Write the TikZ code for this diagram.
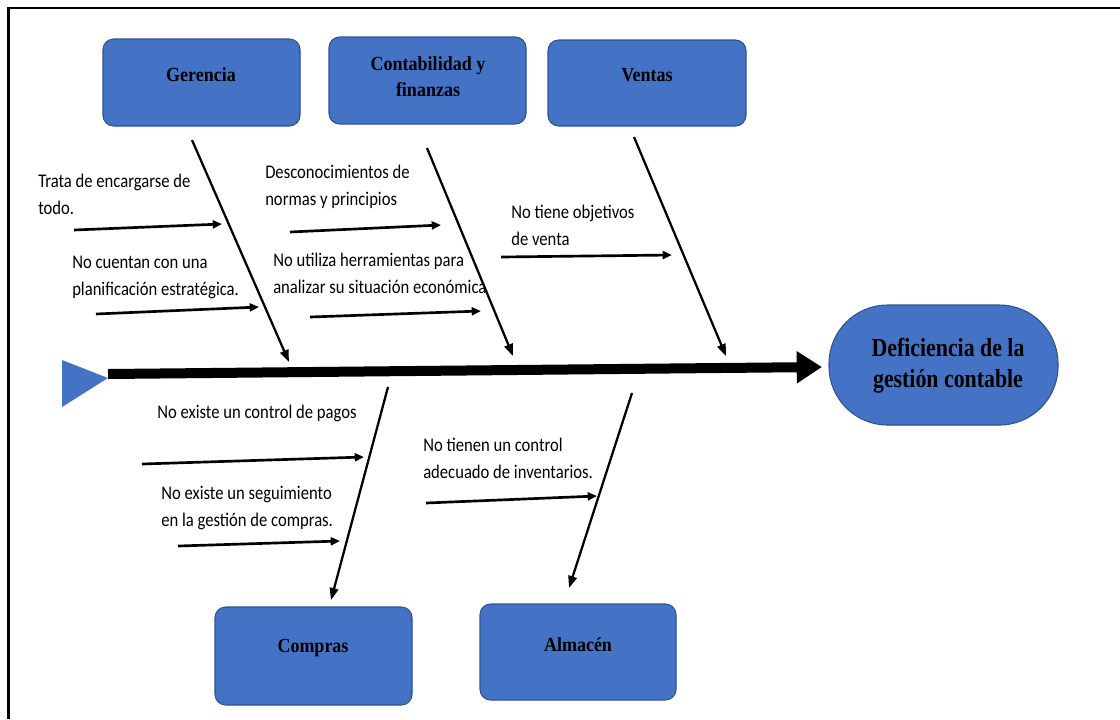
\documentclass[tikz,border=0pt]{standalone}
\usepackage{fontspec}
\usetikzlibrary{arrows.meta}
\newfontfamily\lblfont[FakeStretch=0.86]{Carlito}
\newfontfamily\hdfont[FakeStretch=0.9]{Liberation Serif}
\newfontfamily\bigfont[FakeStretch=0.84]{Liberation Serif}
\definecolor{boxblue}{HTML}{4472C4}
\definecolor{boxedge}{HTML}{2F528F}
\tikzset{
  catbox/.style={draw=boxedge, line width=0.8pt, fill=boxblue, rounded corners=8pt},
  cattext/.style={font=\hdfont\bfseries\fontsize{15}{19.5}\selectfont, align=center, inner sep=0pt, text=black},
  cause/.style={font=\lblfont\fontsize{14.5}{20.2}\selectfont, align=left, anchor=west, inner sep=0pt, text=black},
  bone/.style={line width=1.7pt, -{Triangle[length=9pt,width=6.5pt]}},
  twig/.style={line width=2pt, -{Triangle[length=7pt,width=6pt]}},
}
\begin{document}
\begin{tikzpicture}[x=0.75pt,y=-0.75pt]
\useasboundingbox (0,0) rectangle (1120,719);
% frame
\draw[line width=2pt] (8.5,719) -- (8.5,8) -- (1120,8);
% category boxes
\draw[catbox] (103,39) rectangle (300,126);
\draw[catbox] (329,37) rectangle (526,124);
\draw[catbox] (548,40) rectangle (746,126);
\draw[catbox] (215,607) rectangle (412,705);
\draw[catbox] (480,604) rectangle (676,700);
\draw[draw=boxedge, line width=0.8pt, fill=boxblue, rounded corners=44pt] (829,305) rectangle (1058,425);
\node[cattext] (ger) at (201,75) {Gerencia};
\node[cattext] (con) at (428,77) {Contabilidad y\\finanzas};
\node[cattext] (ven) at (647,75) {Ventas};
\node[cattext] (com) at (313,648) {Compras};
\node[cattext] (alm) at (578,645) {Almacén};
\node[cattext, font=\bigfont\bfseries\fontsize{19.5}{23.5}\selectfont] (def) at (948,366) {Deficiencia de la\\gestión contable};
% spine
\fill[boxblue] (62,360) -- (62,407) -- (108,378) -- cycle;
\coordinate (s0) at (108,374);
\coordinate (s1) at (822,367);
\draw[line width=7.5pt, -{Triangle[length=19pt,width=23pt]}] (s0) -- (s1);
% bones
\coordinate (g0) at (192,140); \coordinate (g1) at (289,362);
\coordinate (c0) at (427,148); \coordinate (c1) at (513,356);
\coordinate (v0) at (634,137); \coordinate (v1) at (726,356);
\coordinate (p0) at (388,387); \coordinate (p1) at (331,600);
\coordinate (a0) at (632,393); \coordinate (a1) at (569,588);
\draw[bone] (g0) -- (g1);
\draw[bone] (c0) -- (c1);
\draw[bone] (v0) -- (v1);
\draw[bone] (p0) -- (p1);
\draw[bone] (a0) -- (a1);
% causes
\node[cause] (t1) at (38,194) {Trata de encargarse de\\todo.};
\node[cause] (t2) at (72,277) {No cuentan con una\\planificación estratégica.};
\node[cause] (t3) at (265,187) {Desconocimientos de\\normas y principios};
\node[cause] (t4) at (273,273) {No utiliza herramientas para\\analizar su situación económica};
\node[cause] (t5) at (511,225) {No tiene objetivos\\de venta};
\node[cause] (t6) at (157,413) {No existe un control de pagos};
\node[cause] (t7) at (161,508) {No existe un seguimiento\\en la gestión de compras.};
\node[cause] (t8) at (423,458) {No tienen un control\\adecuado de inventarios.};
% twigs
\coordinate (w1a) at (74,230); \coordinate (w1b) at (222,224);
\coordinate (w2a) at (96,314); \coordinate (w2b) at (259,307);
\coordinate (w3a) at (290,232); \coordinate (w3b) at (441,225);
\coordinate (w4a) at (310,317); \coordinate (w4b) at (481,311);
\coordinate (w5a) at (501,257); \coordinate (w5b) at (672,255);
\coordinate (w6a) at (142,464); \coordinate (w6b) at (364,457);
\coordinate (w7a) at (178,546); \coordinate (w7b) at (340,541);
\coordinate (w8a) at (426,503); \coordinate (w8b) at (597,496);
\foreach \w in {1,...,8} { \draw[twig] (w\w a) -- (w\w b); }
\end{tikzpicture}
\end{document}
